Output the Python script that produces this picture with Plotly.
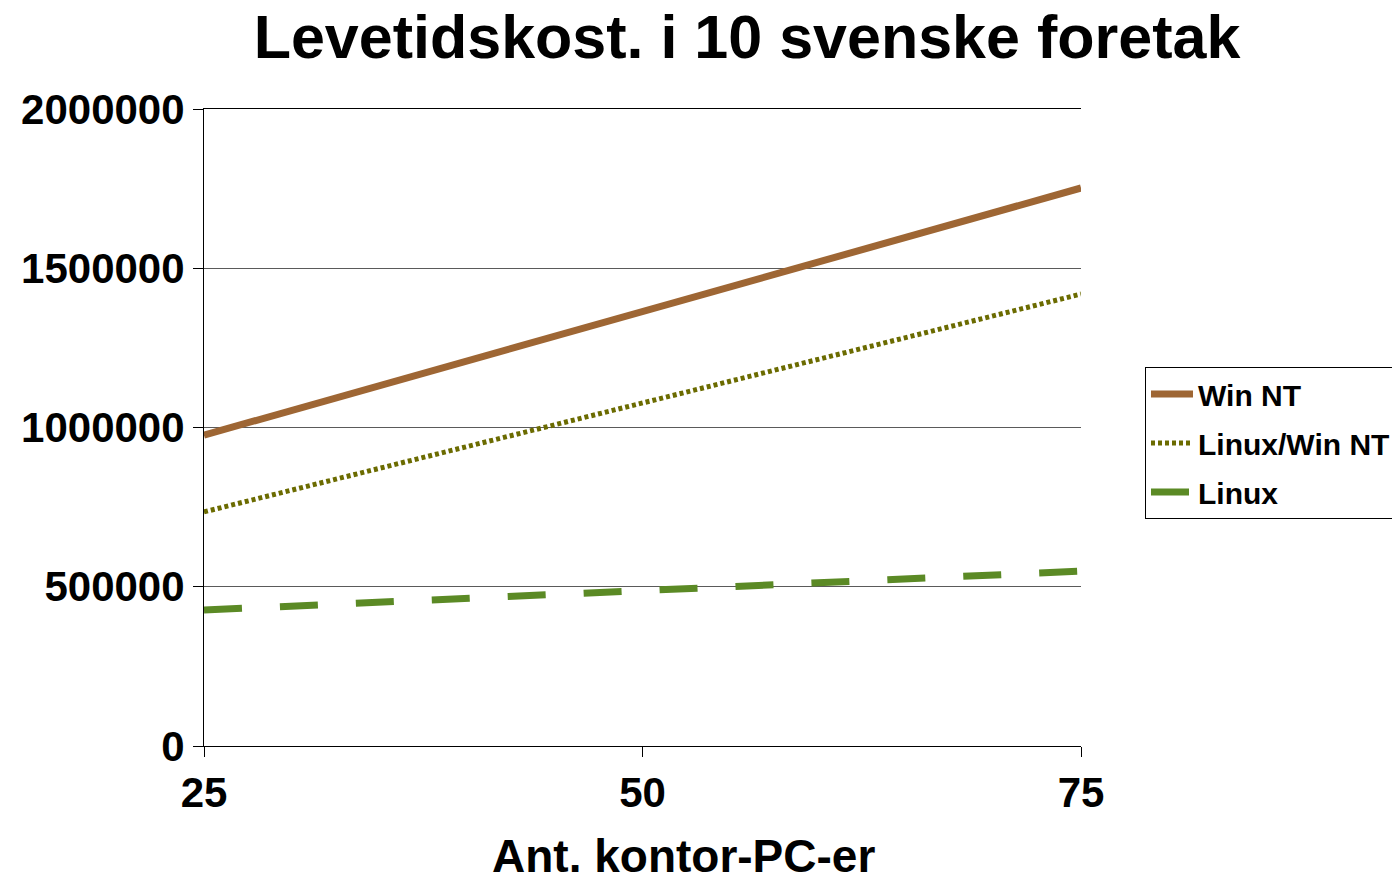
import plotly.graph_objects as go

pcs = [25, 50, 75]
win_nt = [976000, 1366000, 1752000]
linux_win_nt = [735000, 1077000, 1419000]
linux = [427000, 489000, 549000]

series = [
    ("Win NT", win_nt, dict(color="#9E6634", width=7, dash="solid")),
    ("Linux/Win NT", linux_win_nt, dict(color="#6B6B00", width=5, dash="4px,3px")),
    ("Linux", linux, dict(color="#5B8A25", width=7, dash="38px,38px")),
]

fig = go.Figure()
for name, vals, line in series:
    fig.add_trace(go.Scatter(x=pcs, y=vals, name="<b>" + name + "</b>", mode="lines",
                             line=line, legendgroup=name))

font = "Liberation Sans, Arial, sans-serif"
fig.update_layout(
    width=1392, height=878,
    margin=dict(l=204, r=311, t=109, b=132, autoexpand=False),
    paper_bgcolor="white", plot_bgcolor="white",
    font=dict(family=font, color="black"),
    title=dict(text="<b>Levetidskost. i 10 svenske foretak</b>", x=747 / 1392, xanchor="center",
               y=1 - 37 / 878, yanchor="middle", font=dict(size=61, family=font, color="black")),
    showlegend=True,
    legend=dict(x=(1145 - 204) / 877, xanchor="left", y=(746 - 367) / 637, yanchor="top",
                bordercolor="black", borderwidth=1, bgcolor="white",
                font=dict(size=30, family=font, color="black"),
                tracegroupgap=7, itemwidth=42),
    xaxis=dict(range=[25, 75], tickvals=pcs, ticktext=["<b>%d</b>" % p for p in pcs],
               showline=True, linecolor="black", linewidth=1, showgrid=False, mirror=True,
               ticks="outside", ticklen=10, tickcolor="black", zeroline=False,
               tickfont=dict(size=42, family=font, color="black")),
    yaxis=dict(range=[0, 2000000], dtick=500000, tickformat="d",
               tickprefix="<b>", ticksuffix="</b>",
               showline=True, linecolor="black", linewidth=1,
               showgrid=True, gridcolor="#5a5a5a", gridwidth=1,
               ticks="outside", ticklen=10, tickcolor="black", zeroline=False,
               tickfont=dict(size=42, family=font, color="black")),
    annotations=[dict(text="<b>Ant. kontor-PC-er</b>", x=(683 - 204) / 877, xref="paper",
                      y=(746 - 856) / 637, yref="paper",
                      xanchor="center", yanchor="middle", showarrow=False,
                      font=dict(size=46, family=font, color="black"))],
)

fig.write_html("out.html", config={"displayModeBar": False},
               post_script="document.body.style.margin='0';document.body.style.overflow='hidden';")
